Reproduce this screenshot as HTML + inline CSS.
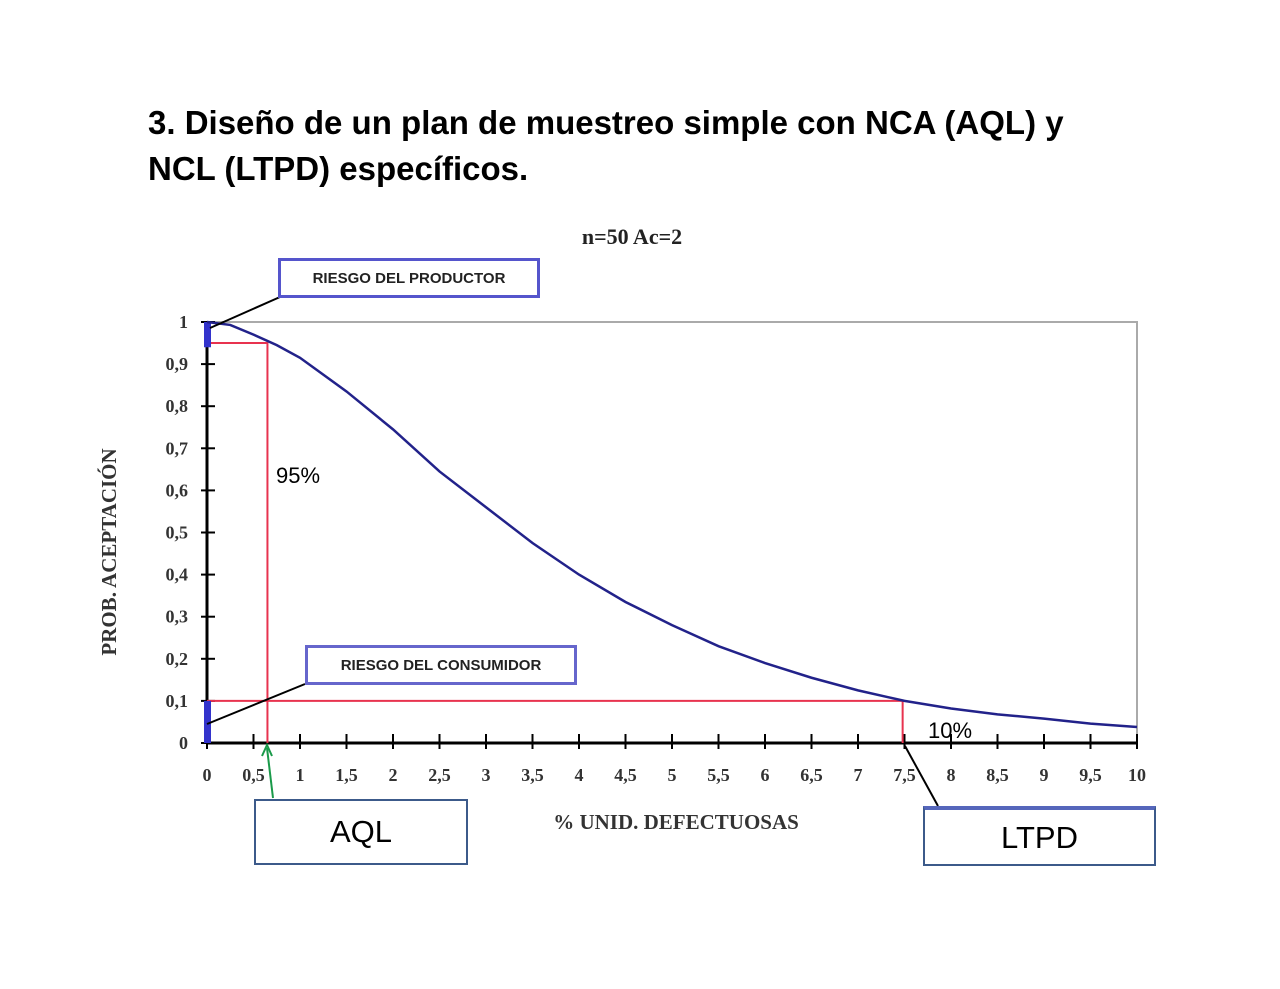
<!DOCTYPE html>
<html><head><meta charset="utf-8"><style>
body{margin:0;background:#fff;width:1280px;height:989px;overflow:hidden;position:relative;font-family:"Liberation Sans",sans-serif}
.title{position:absolute;left:148px;top:100px;font-size:33px;font-weight:bold;line-height:46px;color:#000}
.box{position:absolute;box-sizing:border-box;background:#fff}
</style></head><body>
<div class="title">3. Diseño de un plan de muestreo simple con NCA (AQL) y<br>NCL (LTPD) específicos.</div>
<svg id="chart" width="1280" height="989" style="position:absolute;left:0;top:0"></svg>
<script>
const xTicks=[0,0.5,1,1.5,2,2.5,3,3.5,4,4.5,5,5.5,6,6.5,7,7.5,8,8.5,9,9.5,10];
const xTickLabels=["0","0,5","1","1,5","2","2,5","3","3,5","4","4,5","5","5,5","6","6,5","7","7,5","8","8,5","9","9,5","10"];
const yTicks=[0,0.1,0.2,0.3,0.4,0.5,0.6,0.7,0.8,0.9,1];
const yTickLabels=["0","0,1","0,2","0,3","0,4","0,5","0,6","0,7","0,8","0,9","1"];
const curveP=[0,0.25,0.5,0.75,1,1.5,2,2.5,3,3.5,4,4.5,5,5.5,6,6.5,7,7.5,8,8.5,9,9.5,10];
const curvePa=[1,0.993,0.97,0.945,0.915,0.835,0.745,0.645,0.56,0.475,0.40,0.335,0.28,0.23,0.19,0.155,0.125,0.10,0.082,0.068,0.058,0.046,0.038];
const aql=0.65, aqlPa=0.95, ltpd=7.48, ltpdPa=0.1;
const X=v=>207+v*93, Y=v=>743-v*421;
const svg=document.getElementById('chart');const NS='http://www.w3.org/2000/svg';
function mk(t,a,txt){const e=document.createElementNS(NS,t);for(const k in a)e.setAttribute(k,a[k]);if(txt!==undefined)e.textContent=txt;svg.appendChild(e);return e;}
let e;
e=mk('rect',{x:X(0),y:Y(1),width:X(10)-X(0),height:Y(0)-Y(1),fill:'none',stroke:'#aaa','stroke-width':2});

e=mk('text',{x:632,y:244,'text-anchor':'middle','font-family':'Liberation Serif','font-weight':'bold','font-size':22,fill:'#222'},'n=50 Ac=2');

e=mk('line',{x1:X(0),y1:Y(1),x2:X(0),y2:Y(0),stroke:'#000','stroke-width':3});

e=mk('line',{x1:X(0),y1:Y(0),x2:X(10),y2:Y(0),stroke:'#000','stroke-width':3});

yTicks.forEach((v,i)=>{
 e=mk('line',{x1:X(0)-6,y1:Y(v),x2:X(0)+8,y2:Y(v),stroke:'#000','stroke-width':2});
 
 e=mk('text',{x:188,y:Y(v)+6,'text-anchor':'end','font-family':'Liberation Serif','font-weight':'bold','font-size':18,fill:'#333'},yTickLabels[i]);
 
});
xTicks.forEach((v,i)=>{
 e=mk('line',{x1:X(v),y1:Y(0)-9,x2:X(v),y2:Y(0)+6,stroke:'#000','stroke-width':2});
 
 e=mk('text',{x:X(v),y:781,'text-anchor':'middle','font-family':'Liberation Serif','font-weight':'bold','font-size':18,fill:'#333'},xTickLabels[i]);
 
});
e=mk('text',{x:676,y:829,'text-anchor':'middle','font-family':'Liberation Serif','font-weight':'bold','font-size':21,fill:'#333'},'% UNID. DEFECTUOSAS');

e=mk('text',{x:0,y:0,transform:'translate(116,552) rotate(-90)','text-anchor':'middle','font-family':'Liberation Serif','font-weight':'bold','font-size':21,fill:'#333'},'PROB. ACEPTACIÓN');

e=mk('polyline',{points:`${X(0)},${Y(aqlPa)} ${X(aql)},${Y(aqlPa)} ${X(aql)},${Y(0)}`,fill:'none',stroke:'#e8334f','stroke-width':2});

e=mk('polyline',{points:`${X(0)},${Y(ltpdPa)} ${X(ltpd)},${Y(ltpdPa)} ${X(ltpd)},${Y(0)}`,fill:'none',stroke:'#e8334f','stroke-width':2});

e=mk('rect',{x:X(0)-3,y:Y(1),width:7,height:Y(0.94)-Y(1),fill:'#3333cc'});

e=mk('rect',{x:X(0)-3,y:Y(ltpdPa),width:7,height:Y(0)-Y(ltpdPa),fill:'#3333cc'});

e=mk('polyline',{points:curveP.map((p,i)=>X(p)+','+Y(curvePa[i])).join(' '),fill:'none',stroke:'#22228a','stroke-width':2.5});

e=mk('line',{x1:210,y1:328,x2:280,y2:297,stroke:'#000','stroke-width':2});

e=mk('line',{x1:207,y1:724,x2:305,y2:684,stroke:'#000','stroke-width':2});

e=mk('line',{x1:905,y1:746,x2:938,y2:806,stroke:'#000','stroke-width':2});

e=mk('line',{x1:273,y1:798,x2:267,y2:748,stroke:'#1a9a4a','stroke-width':2});

e=mk('polyline',{points:'262,756 267,745 272,756',fill:'none',stroke:'#1a9a4a','stroke-width':2});

e=mk('text',{x:276,y:483,'font-size':22,fill:'#000'},'95%');

e=mk('text',{x:928,y:738,'font-size':22,fill:'#000'},'10%');

</script>
<div class="box" style="left:278px;top:258px;width:262px;height:40px;border:3px solid #5555cc;font-weight:bold;font-size:15px;color:#222;text-align:center;line-height:36px">RIESGO DEL PRODUCTOR</div>
<div class="box" style="left:305px;top:645px;width:272px;height:40px;border:3px solid #6666cc;font-weight:bold;font-size:15px;color:#222;text-align:center;line-height:36px">RIESGO DEL CONSUMIDOR</div>
<div class="box" style="left:254px;top:799px;width:214px;height:66px;border:2px solid #3c5a8a;font-size:31px;text-align:center;line-height:62px">AQL</div>
<div class="box" style="left:923px;top:806px;width:233px;height:60px;border:2px solid #3c5a8a;border-top:4px solid #5566bb;font-size:31px;text-align:center;line-height:56px">LTPD</div>
</body></html>
